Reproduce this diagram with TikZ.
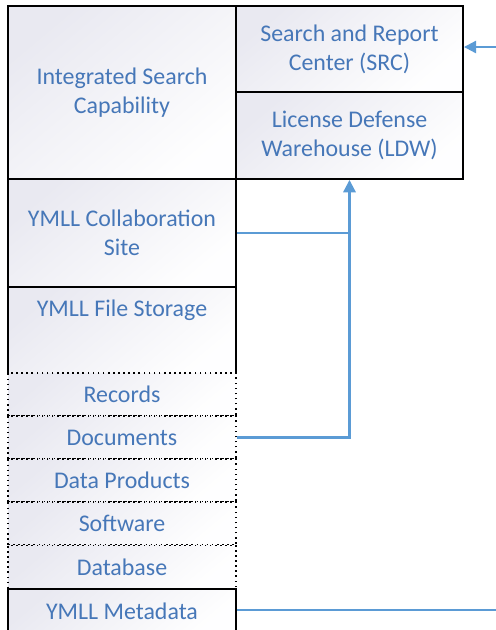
\documentclass[tikz,border=0pt]{standalone}
\usepackage{fontspec}
\setmainfont{Carlito}
\usetikzlibrary{arrows.meta}
\definecolor{txtblue}{HTML}{4677B8}
\definecolor{linkblue}{HTML}{5B9BD5}
\definecolor{shadegray}{HTML}{E9E9F1}
\tikzset{
  cell/.style={rectangle, inner sep=0pt, align=center, text=txtblue,
    font=\fontsize{13.6}{16.5}\selectfont, minimum width=4.56cm,
    top color=shadegray, bottom color=white!97!shadegray, shading angle=40},
  box/.style={cell, draw=black, line width=1.1pt},
  subbox/.style={cell, draw=black, line width=0.9pt, dotted, minimum height=0.86cm},
  link/.style={draw=linkblue, line width=1.2pt}
}
\begin{document}
\begin{tikzpicture}[x=0.02cm, y=-0.02cm]
\useasboundingbox (0,0) rectangle (495,630);
\node[box, minimum height=3.46cm] (ISC) at (122,92.5) {Integrated Search\\Capability};
\node[box, minimum width=4.54cm, minimum height=1.72cm] (SRC) at (349.5,49) {Search and Report\\Center (SRC)};
\node[box, minimum width=4.54cm, minimum height=1.74cm] (LDW) at (349.5,135.5) {License Defense\\Warehouse (LDW)};
\node[box, minimum height=2.16cm] (COL) at (122,233) {YMLL Collaboration\\Site};
\node[cell, minimum height=1.72cm] (FS) at (122,330) {};
\draw[black, line width=1.1pt] (FS.south west) |- (FS.north east) -- (FS.south east);
\node[text=txtblue, inner sep=0pt, font=\fontsize{13.6}{16.5}\selectfont] (FSL) at (122,310) {YMLL File Storage};
\node[subbox] (REC) at (122,394.5) {Records};
\node[subbox] (DOC) at (122,437.5) {Documents};
\node[subbox] (DP) at (122,480.5) {Data Products};
\node[subbox] (SW) at (122,523.5) {Software};
\node[subbox] (DB) at (122,567) {Database};
\node[box, minimum height=0.88cm] (META) at (122,611) {YMLL Metadata};
\coordinate (SRCin) at (497,47);
\coordinate (J) at (349.5,233);
\coordinate (METAout) at (497,610);
\draw[link, -{Triangle[length=7pt, width=7pt]}] (SRCin) -- (SRCin -| SRC.east);
\draw[link] (COL.east) -- (J);
\draw[link, -{Triangle[length=7pt, width=7pt]}] (DOC.east) -| (LDW.south);
\draw[link] (META.east |- METAout) -- (METAout);
\end{tikzpicture}
\end{document}
